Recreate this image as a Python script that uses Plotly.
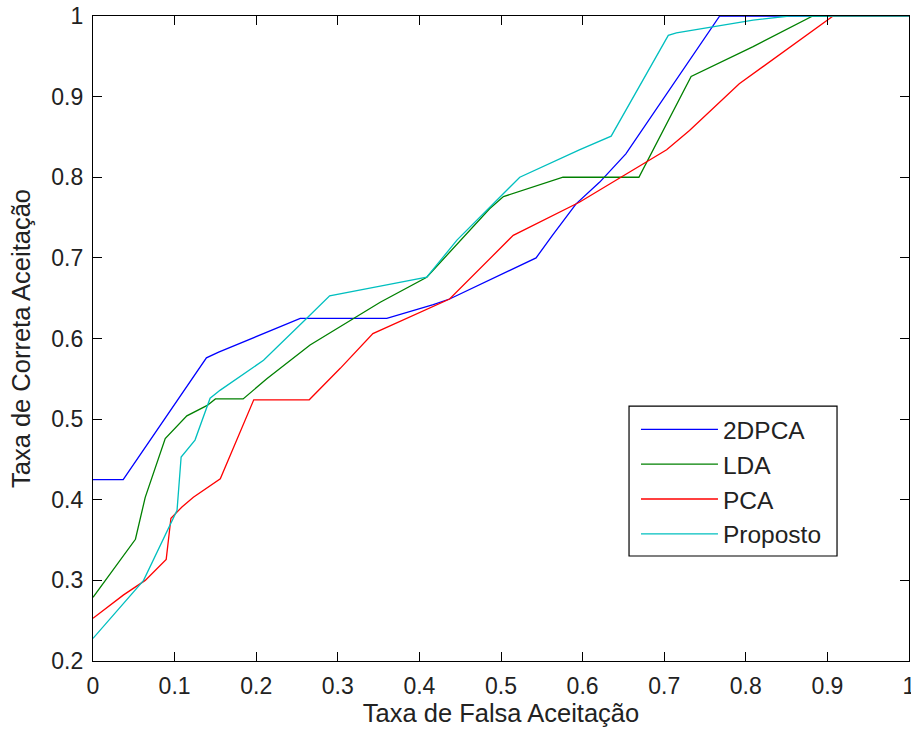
import plotly.graph_objects as go

# ---- data ----
names = ["2DPCA", "LDA", "PCA", "Proposto"]
colors = ["#0000FF", "#008000", "#FF0000", "#00BFBF"]

x_2dpca = [0, 0.037, 0.139, 0.154, 0.254, 0.36, 0.417, 0.437, 0.543, 0.563, 0.592, 0.621, 0.653, 0.768, 1.0]
y_2dpca = [0.425, 0.425, 0.576, 0.583, 0.625, 0.625, 0.642, 0.649, 0.700, 0.728, 0.767, 0.794, 0.829, 1.0, 1.0]

x_lda = [0, 0.052, 0.064, 0.0885, 0.115, 0.14, 0.15, 0.184, 0.213, 0.266, 0.352, 0.409, 0.486, 0.503, 0.576, 0.669, 0.733, 0.809, 0.882, 1.0]
y_lda = [0.279, 0.351, 0.403, 0.476, 0.504, 0.517, 0.525, 0.525, 0.550, 0.592, 0.645, 0.676, 0.761, 0.776, 0.800, 0.800, 0.925, 0.962, 1.0, 1.0]

x_pca = [0, 0.0375, 0.064, 0.0897, 0.0955, 0.109, 0.123, 0.156, 0.197, 0.265, 0.303, 0.343, 0.437, 0.515, 0.596, 0.703, 0.731, 0.792, 0.907, 1.0]
y_pca = [0.253, 0.282, 0.300, 0.326, 0.377, 0.391, 0.403, 0.426, 0.524, 0.524, 0.563, 0.606, 0.649, 0.728, 0.769, 0.834, 0.858, 0.916, 1.0, 1.0]

x_prop = [0, 0.062, 0.103, 0.108, 0.125, 0.1435, 0.156, 0.209, 0.262, 0.290, 0.352, 0.409, 0.446, 0.523, 0.596, 0.635, 0.705, 0.715, 0.809, 0.853, 1.0]
y_prop = [0.228, 0.300, 0.387, 0.453, 0.474, 0.526, 0.536, 0.573, 0.625, 0.653, 0.665, 0.676, 0.722, 0.800, 0.834, 0.851, 0.976, 0.979, 0.995, 1.0, 1.0]

xs = [x_2dpca, x_lda, x_pca, x_prop]
ys = [y_2dpca, y_lda, y_pca, y_prop]

x_title = "Taxa de Falsa Aceitação"
y_title = "Taxa de Correta Aceitação"

FONT = "Liberation Sans, Arial, sans-serif"
TXT = "#222222"

fig = go.Figure()
for n, c, x, y in zip(names, colors, xs, ys):
    fig.add_trace(go.Scatter(x=x, y=y, mode="lines", name=n,
                             line=dict(color=c, width=1.3)))

axis_common = dict(
    showline=True, linecolor="black", linewidth=1.3, mirror="allticks",
    ticks="inside", ticklen=9, tickwidth=1.3, tickcolor="black",
    showgrid=False, zeroline=False, dtick=0.1,
    ticklabeloverflow="allow", automargin=False,
    tickfont=dict(family=FONT, size=23, color=TXT),
)

fig.update_xaxes(range=[0, 1],
                 title=dict(text=x_title, font=dict(family=FONT, size=25.5, color=TXT), standoff=4),
                 ticklabelstandoff=4, **axis_common)
fig.update_yaxes(range=[0.2, 1],
                 title=dict(text=y_title, font=dict(family=FONT, size=25.5, color=TXT), standoff=13),
                 ticklabelstandoff=4, **axis_common)

# legend frame (style element)
fig.add_shape(type="rect", xref="paper", yref="paper",
              x0=0.6569, x1=0.9118, y0=0.1628, y1=0.3953,
              line=dict(color="black", width=1.2), fillcolor="white", layer="above")

fig.update_layout(
    width=911, height=731,
    margin=dict(l=93, r=2, t=16, b=70),
    paper_bgcolor="white", plot_bgcolor="white",
    showlegend=True,
    legend=dict(x=0.6654, y=0.394, xanchor="left", yanchor="top",
                borderwidth=0, bgcolor="rgba(0,0,0,0)",
                itemwidth=77,
                font=dict(family=FONT, size=24.5, color=TXT)),
)

fig.write_html("out.html")
